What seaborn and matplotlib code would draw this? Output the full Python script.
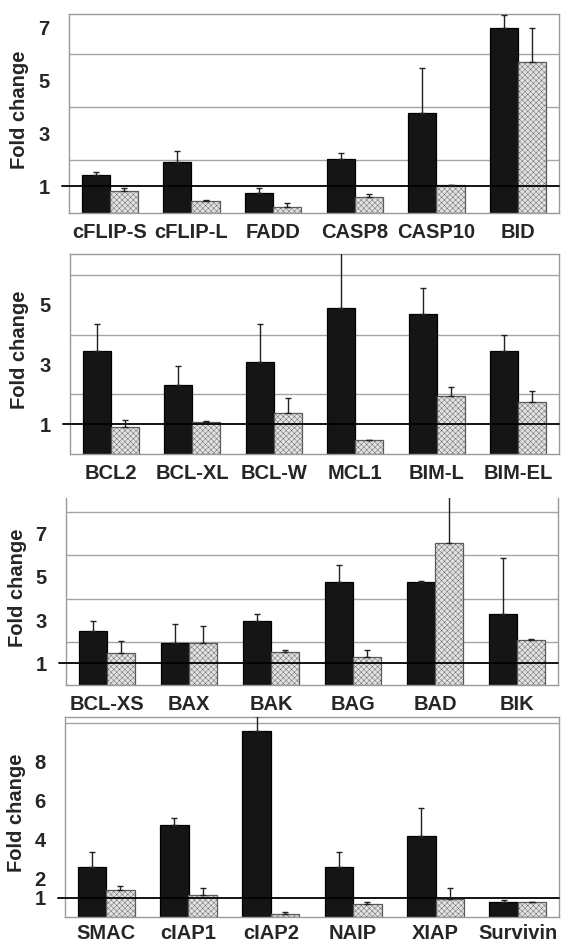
import numpy as np
import pandas as pd
import seaborn as sns
from matplotlib import pyplot as plt

# === data (fold change, mean and upper error) ===
genes_1 = ['cFLIP-S', 'cFLIP-L', 'FADD', 'CASP8', 'CASP10', 'BID']
dark_1 = [1.43, 1.94, 0.75, 2.04, 3.76, 6.96]
dark_err_1 = [0.10, 0.40, 0.20, 0.24, 1.72, 0.49]
light_1 = [0.83, 0.46, 0.21, 0.60, 1.04, 5.69]
light_err_1 = [0.12, 0.04, 0.15, 0.13, 0.02, 1.30]

genes_2 = ['BCL2', 'BCL-XL', 'BCL-W', 'MCL1', 'BIM-L', 'BIM-EL']
dark_2 = [3.45, 2.30, 3.08, 4.88, 4.69, 3.46]
dark_err_2 = [0.92, 0.64, 1.27, 2.00, 0.86, 0.53]
light_2 = [0.92, 1.06, 1.39, 0.46, 1.93, 1.73]
light_err_2 = [0.21, 0.05, 0.48, 0.02, 0.32, 0.39]

genes_3 = ['BCL-XS', 'BAX', 'BAK', 'BAG', 'BAD', 'BIK']
dark_3 = [2.48, 1.96, 2.98, 4.75, 4.76, 3.30]
dark_err_3 = [0.50, 0.87, 0.29, 0.79, 0.05, 2.59]
light_3 = [1.48, 1.95, 1.54, 1.29, 6.56, 2.07]
light_err_3 = [0.54, 0.80, 0.07, 0.31, 2.40, 0.06]

genes_4 = ['SMAC', 'cIAP1', 'cIAP2', 'NAIP', 'XIAP', 'Survivin']
dark_4 = [2.55, 4.72, 9.57, 2.58, 4.17, 0.76]
dark_err_4 = [0.82, 0.37, 0.80, 0.79, 1.42, 0.14]
light_4 = [1.41, 1.15, 0.17, 0.69, 0.95, 0.76]
light_err_4 = [0.21, 0.36, 0.11, 0.10, 0.53, 0.03]

conditions = ['dark', 'light']

# panel layout in pixels: left, right, top, bottom
W, H = 563, 947
panels = [
    dict(genes=genes_1, dark=dark_1, de=dark_err_1, light=light_1, le=light_err_1,
         box=(69, 559, 14, 213), ylim=7.5, ticks=[1, 3, 5, 7], grid=[2, 3, 4, 5, 6, 7],
         top=True, lab_x=29, xpad=7),
    dict(genes=genes_2, dark=dark_2, de=dark_err_2, light=light_2, le=light_err_2,
         box=(70, 559, 254, 454), ylim=6.7, ticks=[1, 3, 5], grid=[2, 3, 4, 5, 6],
         top=True, lab_x=29, xpad=7),
    dict(genes=genes_3, dark=dark_3, de=dark_err_3, light=light_3, le=light_err_3,
         box=(66, 558, 498, 685), ylim=8.65, ticks=[1, 3, 5, 7], grid=[2, 3, 4, 5, 6, 7, 8],
         top=False, lab_x=27, xpad=7),
    dict(genes=genes_4, dark=dark_4, de=dark_err_4, light=light_4, le=light_err_4,
         box=(65, 559, 717, 917), ylim=10.3, ticks=[1, 2, 4, 6, 8], grid=[2, 4, 6, 8, 10],
         top=True, lab_x=26, xpad=5),
]

sns.set_style('white')
plt.rcParams['font.family'] = ['Liberation Sans', 'DejaVu Sans']
plt.rcParams['font.weight'] = 'bold'
plt.rcParams['hatch.linewidth'] = 0.3

fig = plt.figure(figsize=(W / 100, H / 100), dpi=100)
spine_col = '#9a9a9a'
fs = 14.5

for p in panels:
    l, r, t, b = p['box']
    ax = fig.add_axes([l / W, 1 - b / H, (r - l) / W, (b - t) / H])

    df = pd.DataFrame({
        'gene': p['genes'] * 2,
        'cond': ['dark'] * 6 + ['light'] * 6,
        'fold': p['dark'] + p['light'],
    })
    sns.barplot(data=df, x='gene', y='fold', hue='cond', hue_order=conditions,
                palette={'dark': '#151515', 'light': '#e2e2e2'}, saturation=1,
                width=0.69, legend=False, errorbar=None, ax=ax, zorder=2)

    errs = [p['de'], p['le']]
    for cont, err, ec in zip(ax.containers, errs, ['black', '#5a5a5a']):
        for bar in cont:
            bar.set_edgecolor(ec)
            bar.set_linewidth(0.9)
            if ec != 'black':
                bar.set_hatch('xxxxxx')
        xs = [bar.get_x() + bar.get_width() / 2 for bar in cont]
        hs = [bar.get_height() for bar in cont]
        ax.errorbar(xs, hs, yerr=[np.zeros(len(err)), err], fmt='none',
                    ecolor='#222222', elinewidth=1, capsize=2.2, capthick=1, zorder=4)

    # reference line at fold change = 1, poking out past the axis like a tick
    ax.axhline(1, xmin=-0.015, xmax=1, color='black', lw=1.3, clip_on=False, zorder=3)

    ax.set_ylim(0, p['ylim'])
    ax.set_xlim(-0.5, 5.5)
    ax.set_yticks(p['ticks'])
    ax.set_yticks(p['grid'], minor=True)
    ax.grid(False)
    ax.grid(which='minor', axis='y', color='#a5a5a5', lw=1, zorder=0)
    ax.set_axisbelow(True)
    ax.tick_params(axis='both', which='both', length=0, labelsize=fs)
    ax.tick_params(axis='y', pad=14)
    ax.tick_params(axis='x', pad=p['xpad'])
    for lab in ax.get_xticklabels() + ax.get_yticklabels():
        lab.set_fontweight('bold')

    ax.set_xlabel('')
    ax.set_ylabel('Fold change', fontsize=fs, fontweight='bold')
    ax.yaxis.set_label_coords((p['lab_x'] - l) / (r - l), 0.52)

    for name, sp in ax.spines.items():
        sp.set_color(spine_col)
        sp.set_linewidth(1)
    ax.spines['top'].set_visible(p['top'])

fig.savefig('out.png', dpi=100)
